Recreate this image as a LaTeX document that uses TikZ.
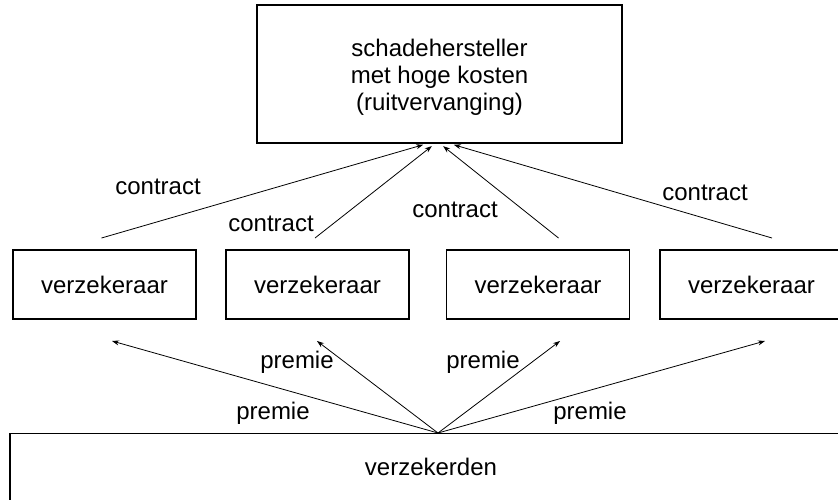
\documentclass[tikz,border=0pt]{standalone}
\usepackage{fontspec}
\setmainfont{Liberation Sans}
\usetikzlibrary{arrows.meta}

\begin{document}
\begin{tikzpicture}
	[x=1pt,y=-1pt%
	,every node/.style={font=\fontsize{24}{27}\selectfont,%
		inner sep=0pt}%
	,box/.style={draw=black,%
		line width=1.3pt,%
		rectangle}%
	,verzbox/.style={box,%
		minimum width=183pt,%
		minimum height=69pt}%
	,pijl/.style={-{Stealth[length=7pt,width=5pt]},%
		line width=0.8pt}]
	\useasboundingbox (0,0) rectangle (838,499);
	\node[box,minimum width=365pt,align=center,text height=105pt,text depth=33pt]
		(herst) at (439.5,74) {schadehersteller\\met hoge kosten\\(ruitvervanging)};
	\node[verzbox] (v1) at (104.5,284.5) {verzekeraar};
	\node[verzbox] (v2) at (317.5,284.5) {verzekeraar};
	\node[verzbox] (v3) at (538,284.5) {verzekeraar};
	\node[verzbox] (v4) at (751.5,284.5) {verzekeraar};
	\node[box,minimum width=842pt,text height=42pt,text depth=60pt,anchor=north]
		(vzd) at (431,433) {verzekerden};
	\coordinate (c1) at (101.5,238);
	\coordinate (c2) at (315,238);
	\coordinate (c3) at (558.5,238);
	\coordinate (c4) at (772,238);
	\coordinate (p1) at (112,341);
	\coordinate (p2) at (317,341);
	\coordinate (p3) at (560,341);
	\coordinate (p4) at (765,341);
	\draw[pijl,shorten >=4pt] (c1) -- ([xshift=-12.5pt]herst.south);
	\draw[pijl,shorten >=4pt] (c2) -- ([xshift=-4.5pt]herst.south);
	\draw[pijl,shorten >=4pt] (c3) -- ([xshift=0.5pt]herst.south);
	\draw[pijl,shorten >=4pt] (c4) -- ([xshift=10.5pt]herst.south);
	\node (k1) at (158,187) {contract};
	\node (k2) at (271,224) {contract};
	\node (k3) at (455,210) {contract};
	\node (k4) at (705,193) {contract};
	\draw[pijl] ([xshift=7pt]vzd.north) -- (p1);
	\draw[pijl] ([xshift=7pt]vzd.north) -- (p2);
	\draw[pijl] ([xshift=7pt]vzd.north) -- (p3);
	\draw[pijl] ([xshift=7pt]vzd.north) -- (p4);
	\node (q1) at (273,413) {premie};
	\node (q2) at (297,362) {premie};
	\node (q3) at (483,362) {premie};
	\node (q4) at (590,413) {premie};
\end{tikzpicture}
\end{document}
